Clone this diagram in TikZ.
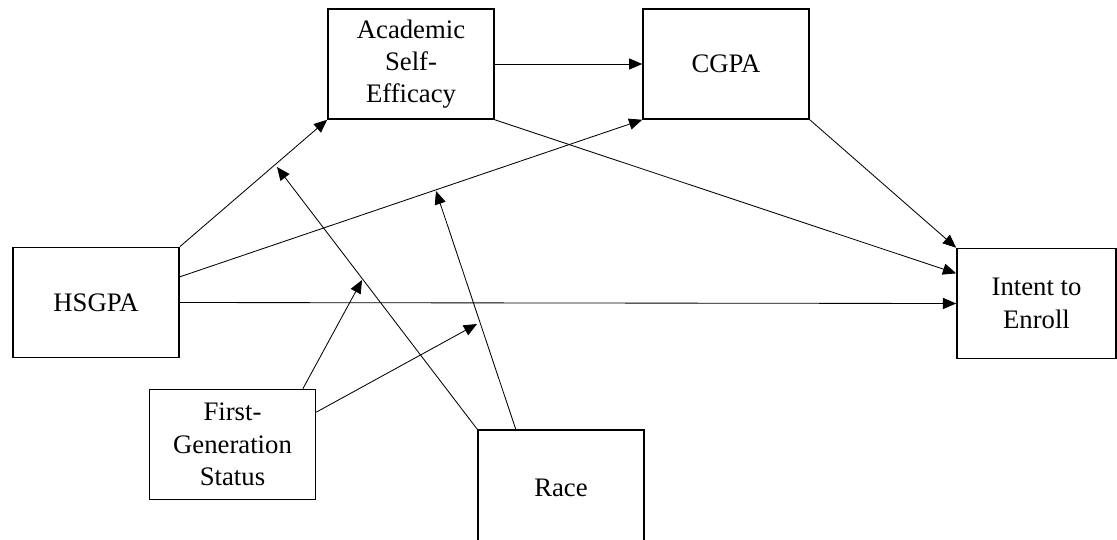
\documentclass[tikz,border=0pt]{standalone}
\usepackage{fontspec}
\setmainfont{Liberation Serif}
\usetikzlibrary{calc, arrows.meta}

\begin{document}
\begin{tikzpicture}[x=0.025cm, y=-0.025cm,
  var/.style={draw, line width=1.1pt, minimum width=4.15cm, minimum height=2.75cm,
    inner sep=0pt, align=center, font=\fontsize{19}{23}\selectfont},
  path/.style={line width=0.6pt, -{Triangle[length=0.33cm, width=0.28cm]}}]
\useasboundingbox (0,0) rectangle (1117,539);
% The six variables
\node [var] (ase) at (411,64) {Academic\\Self-\\Efficacy};
\node [var] (cgpa) at (726,64) {CGPA};
\node [var] (hs) at (96,302.5) {HSGPA};
\node [var] (fg) at (232.5,444.5) {First-\\Generation\\Status};
\node [var, minimum height=2.9cm] (race) at (561,488) {Race};
\node [var, minimum width=3.98cm] (intent) at (1036.5,303.5) {Intent to\\Enroll};
% Points on the paths where the moderators point to
\coordinate (m1) at (362,280);
\coordinate (m2) at (477,324);
\coordinate (m3) at (277,167);
\coordinate (m4) at (436,191);
% Direct paths
\draw [path] (hs.north east) -- (ase.south west);
\draw [path] ($ (hs.north east)!.27!(hs.south east) $) -- (cgpa.south west);
\draw [path] (hs.east) -- (intent.west);
\draw [path] (ase.east) -- (cgpa.west);
\draw [path] (ase.south east) -- ($ (intent.north west)!.23!(intent.south west) $);
\draw [path] (cgpa.south east) -- (intent.north west);
% Moderation paths
\draw [path] ($ (fg.north west)!.92!(fg.north east) $) -- (m1);
\draw [path] ($ (fg.north east)!.21!(fg.south east) $) -- (m2);
\draw [path] (race.north west) -- (m3);
\draw [path] ($ (race.north west)!.23!(race.north east) $) -- (m4);
\end{tikzpicture}
\end{document}
